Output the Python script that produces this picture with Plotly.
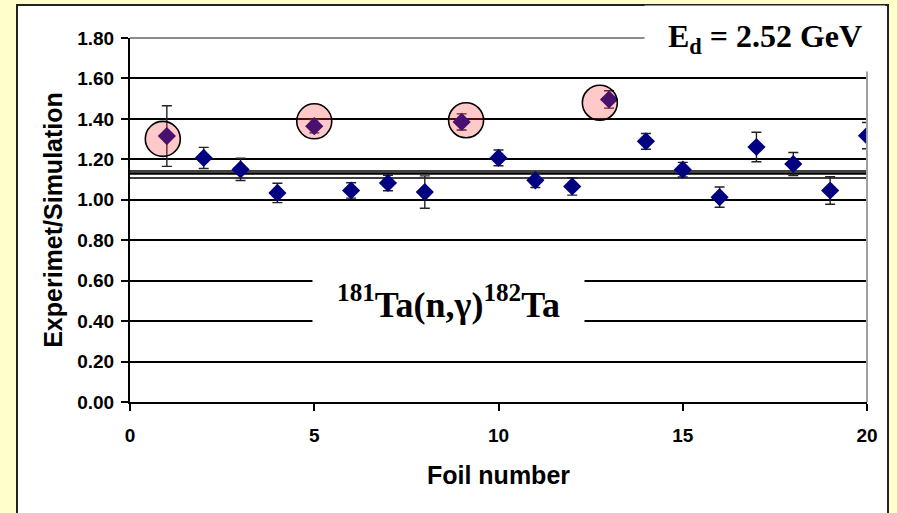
import plotly.graph_objects as go

# ---- data ----
foil = list(range(1, 21))
ratio = [1.315, 1.207, 1.150, 1.034, 1.364, 1.046, 1.083, 1.038, 1.385, 1.207,
         1.096, 1.066, 1.496, 1.289, 1.149, 1.013, 1.261, 1.177, 1.046, 1.317]
ratio_err = [0.150, 0.052, 0.055, 0.048, 0.033, 0.038, 0.038, 0.080, 0.040, 0.039,
             0.035, 0.043, 0.043, 0.039, 0.036, 0.050, 0.073, 0.057, 0.068, 0.065]
# highlighted foils (circles)
hl_x = [0.89, 5.0, 9.12, 12.75]
hl_y = [1.301, 1.388, 1.393, 1.48]
# mean and spread lines
ref_levels = [1.142, 1.130, 1.108]
ref_widths = [1.5, 2.5, 1.6]
x_span = [0, 20]

y_ticks = [0.0, 0.2, 0.4, 0.6, 0.8, 1.0, 1.2, 1.4, 1.6, 1.8]
x_ticks = [0, 5, 10, 15, 20]

fig = go.Figure()

for lvl, w in zip(ref_levels, ref_widths):
    fig.add_trace(go.Scatter(x=x_span, y=[lvl, lvl], mode="lines",
                             line=dict(color="black", width=w),
                             showlegend=False, hoverinfo="skip"))

fig.add_trace(go.Scatter(
    x=foil, y=ratio, mode="markers",
    marker=dict(symbol="diamond", size=14, color="#000080"),
    error_y=dict(type="data", array=ratio_err, visible=True,
                 color="#222222", thickness=1.4, width=5),
    showlegend=False))

fig.add_trace(go.Scatter(
    x=hl_x, y=hl_y, mode="markers",
    marker=dict(symbol="circle", size=35, color="rgba(255,60,60,0.28)",
                line=dict(color="black", width=1.6)),
    showlegend=False, hoverinfo="skip"))

L, R, T, B = 130, 30, 38, 111
W, H = 897, 513
pw, ph = W - L - R, H - T - B

def px2paper_x(px):
    return (px - L) / pw

def px2paper_y(py):
    return (H - B - py) / ph

tickfont = dict(family="Liberation Sans, Arial", size=19, color="black", weight="bold")
titlefont = dict(family="Liberation Sans, Arial", size=25, color="black", weight="bold")

fig.update_layout(
    width=W, height=H,
    margin=dict(l=L, r=R, t=T, b=B, pad=0),
    paper_bgcolor="#FFFFCC",
    plot_bgcolor="white",
    xaxis=dict(range=[0, 20], tickvals=x_ticks, ticktext=[str(v) for v in x_ticks],
               showgrid=False, zeroline=False, showline=True, linecolor="black", linewidth=2,
               ticks="outside", ticklen=7, tickwidth=2, tickcolor="black",
               tickfont=tickfont, ticklabelstandoff=8,
               title=dict(text="Foil number", font=titlefont, standoff=22)),
    yaxis=dict(range=[0, 1.8], tickvals=y_ticks, ticktext=[f"{v:.2f}" for v in y_ticks],
               showgrid=True, gridcolor="black", gridwidth=2,
               zeroline=False, showline=True, linecolor="black", linewidth=2,
               ticks="outside", ticklen=7, tickwidth=2, tickcolor="black",
               tickfont=tickfont, ticklabelstandoff=3,
               title=dict(text="Experimet/Simulation", font=titlefont, standoff=7)),
    shapes=[
        # white framed panel
        dict(type="rect", xref="paper", yref="paper", layer="below",
             x0=px2paper_x(17), x1=px2paper_x(888), y0=px2paper_y(530), y1=px2paper_y(5),
             fillcolor="white", line=dict(color="#222222", width=2)),
        # gray plot-area border (top and right)
        dict(type="line", xref="x domain", yref="y domain", x0=0, x1=1, y0=1, y1=1,
             line=dict(color="#8c8c8c", width=2), layer="above"),
        dict(type="line", xref="x domain", yref="y domain", x0=1, x1=1, y0=0, y1=1,
             line=dict(color="#a0a0a0", width=2), layer="above"),
    ],
    annotations=[
        dict(text="E<sub>d</sub> = 2.52 GeV", xref="paper", yref="paper",
             x=px2paper_x(765), y=px2paper_y(38), xanchor="center", yanchor="middle",
             showarrow=False, bgcolor="white", width=240, height=65, borderpad=0,
             font=dict(family="Liberation Serif, Times New Roman", size=32, color="black",
                       weight="bold")),
        dict(text="<sup>181</sup>Ta(n,γ)<sup>182</sup>Ta", xref="paper", yref="paper",
             x=px2paper_x(448.5), y=px2paper_y(302), xanchor="center", yanchor="middle",
             showarrow=False, bgcolor="white", width=271, height=70, borderpad=0,
             font=dict(family="Liberation Serif, Times New Roman", size=36, color="black",
                       weight="bold")),
    ],
)

fig.write_html("out.html")
